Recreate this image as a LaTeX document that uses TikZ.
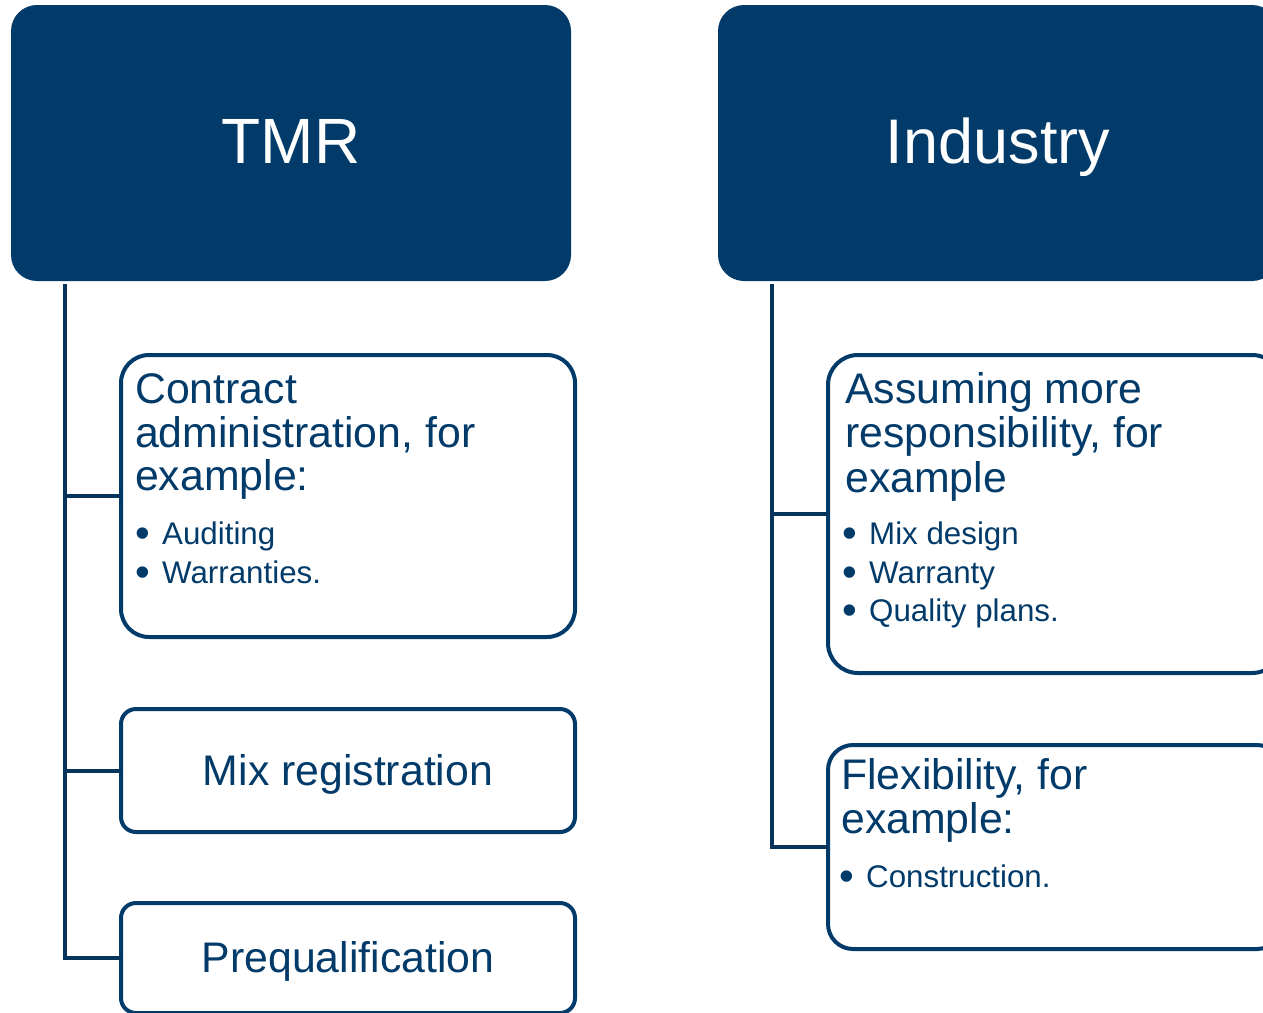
\documentclass[tikz,border=0pt]{standalone}
\usepackage{fontspec}
\setmainfont{Liberation Sans}
\usetikzlibrary{calc}
\definecolor{navy}{RGB}{2,59,105}
\definecolor{linknavy}{RGB}{6,52,90}
\tikzset{
  headbox/.style={fill=navy, draw=none, rounded corners=26pt, minimum width=560pt, minimum height=276pt, anchor=north west, inner sep=0pt, outer sep=0pt},
  headtext/.style={text=white, font=\fontsize{64}{70}\selectfont, anchor=base, inner sep=0pt},
  childbox/.style={draw=navy, line width=4pt, fill=white, anchor=north west, inner sep=0pt, outer sep=0pt, minimum width=454pt},
  bigline/.style={text=navy, font=\fontsize{42.8}{44}\selectfont, anchor=base west, inner sep=0pt},
  bigcenter/.style={text=navy, font=\fontsize{42.8}{44}\selectfont, anchor=base, inner sep=0pt},
  bulletline/.style={text=navy, font=\fontsize{31.3}{39}\selectfont, anchor=base west, inner sep=0pt},
  link/.style={draw=linknavy, line width=4pt}
}
\newcommand{\bul}[1]{\makebox[#1][l]{\raisebox{-3pt}{\fontsize{42}{42}\selectfont •}}}
\begin{document}
\begin{tikzpicture}[x=1pt,y=-1pt]
\useasboundingbox (0,0) rectangle (1263,1012);
\clip (0,0) rectangle (1263,1012);

% header boxes
\node[headbox] (tmr) at (11,5) {};
\node[headtext] (tmrt) at (291,163) {TMR};
\node[headbox] (ind) at (718,5) {};
\node[headtext, font=\fontsize{63}{70}\selectfont] (indt) at (998,163) {Industry};

% left children
\node[childbox, rounded corners=28pt, minimum height=282pt] (contract) at (121,355) {};
\node[bigline] (c1) at (135,403) {Contract};
\node[bigline] (c2) at (135,447) {administration, for};
\node[bigline] (c3) at (135,490) {example:};
\node[bulletline] (c4) at (135,544) {\bul{27pt}Auditing};
\node[bulletline] (c5) at (135,583) {\bul{27pt}Warranties.};

\node[childbox, rounded corners=15pt, minimum height=123pt] (mix) at (121,709) {};
\node[bigcenter] (mixt) at (348,785) {Mix registration};

\node[childbox, rounded corners=15pt, minimum height=110pt] (preq) at (121,903) {};
\node[bigcenter] (preqt) at (348,972) {Prequalification};

% right children
\node[childbox, rounded corners=30pt, minimum height=318pt] (assume) at (828,355) {};
\node[bigline] (a1) at (845,403) {Assuming more};
\node[bigline] (a2) at (845,447) {responsibility, for};
\node[bigline] (a3) at (845,492) {example};
\node[bulletline] (a4) at (842,544) {\bul{27pt}Mix design};
\node[bulletline] (a5) at (842,583) {\bul{27pt}Warranty};
\node[bulletline] (a6) at (842,621) {\bul{27pt}Quality plans.};

\node[childbox, rounded corners=25pt, minimum height=204pt] (flex) at (828,745) {};
\node[bigline] (f1) at (841,789) {Flexibility, for};
\node[bigline] (f2) at (841,833) {example:};
\node[bulletline] (f3) at (839,887) {\bul{27pt}Construction.};

% connectors
\coordinate (tl) at ($(tmr.south west)+(54,3)$);
\coordinate (tr) at ($(ind.south west)+(54,3)$);
\draw[link] (tl) |- (contract.west);
\draw[link] (tl) |- (mix.west);
\draw[link] (tl) |- (preq.west);
\draw[link] (tr) |- (assume.west);
\draw[link] (tr) |- (flex.west);
\end{tikzpicture}
\end{document}
